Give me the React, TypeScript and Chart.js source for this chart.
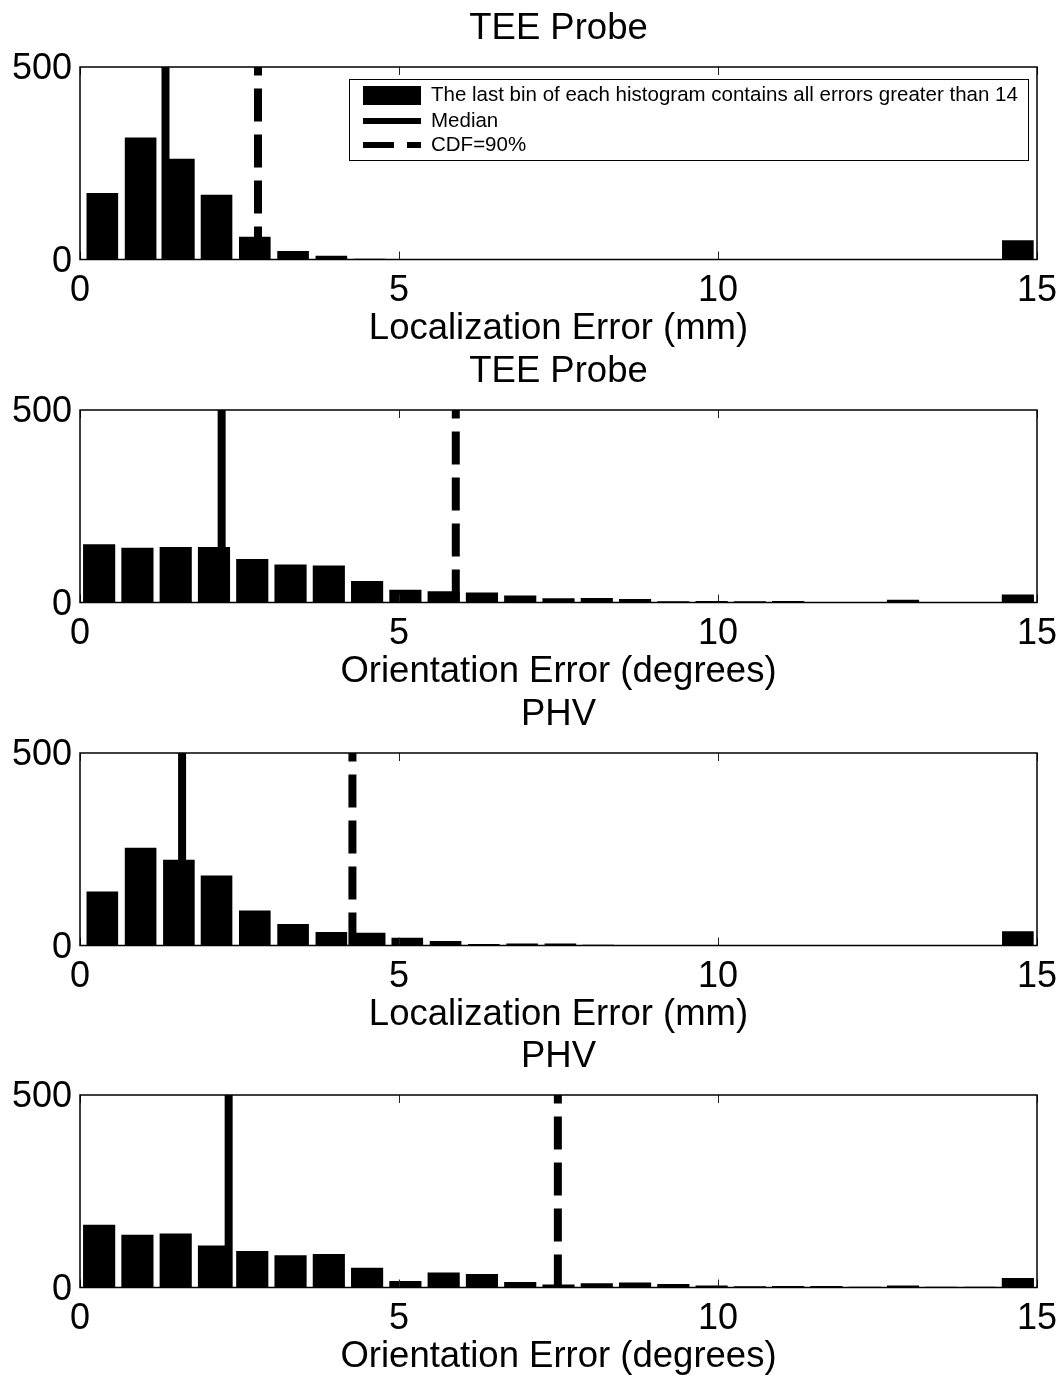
import React, { useEffect, useRef } from 'react';
import { Chart, registerables } from 'chart.js';

Chart.register(...registerables);

// ---------- data ----------
const panelTitles = ['TEE Probe', 'TEE Probe', 'PHV', 'PHV'];
const panelXLabels = [
  'Localization Error (mm)',
  'Orientation Error (degrees)',
  'Localization Error (mm)',
  'Orientation Error (degrees)',
];
const locBinCenters = [0.35, 0.95, 1.55, 2.14, 2.74, 3.34, 3.94, 4.54, 5.13, 5.73, 6.33, 6.93, 7.53, 8.12, 8.72, 9.32, 9.92, 10.52, 11.11, 11.71, 12.31, 12.91, 13.51, 14.1, 14.7];
const oriBinCenters = [0.3, 0.9, 1.5, 2.1, 2.7, 3.3, 3.9, 4.5, 5.1, 5.7, 6.3, 6.9, 7.5, 8.1, 8.7, 9.3, 9.9, 10.5, 11.1, 11.7, 12.3, 12.9, 13.5, 14.1, 14.7];
const teeLocCounts = [173, 317, 262, 168, 59, 22, 10, 2, 1, 0, 0, 0, 0, 0, 0, 0, 0, 0, 0, 0, 0, 0, 0, 0, 50];
const teeOriCounts = [151, 142, 144, 144, 113, 99, 96, 56, 33, 29, 26, 18, 11, 12, 9, 3, 4, 3, 4, 1, 1, 7, 1, 0, 21];
const phvLocCounts = [140, 254, 223, 182, 91, 56, 35, 33, 20, 12, 4, 5, 5, 2, 0, 0, 0, 0, 0, 0, 0, 0, 0, 0, 37];
const phvOriCounts = [163, 137, 140, 109, 95, 84, 87, 51, 17, 39, 35, 14, 8, 11, 13, 9, 5, 3, 4, 4, 2, 5, 2, 2, 25];
const medianValues = [1.34, 2.22, 1.6, 2.33];
const cdf90Values = [2.79, 5.89, 4.27, 7.49];
const xTickValues = [0, 5, 10, 15];
const yTickValues = [0, 500];
const legendLabels = [
  'The last bin of each histogram contains all errors greater than 14',
  'Median',
  'CDF=90%',
];

const panelCenters = [locBinCenters, oriBinCenters, locBinCenters, oriBinCenters];
const panelCounts = [teeLocCounts, teeOriCounts, phvLocCounts, phvOriCounts];

// ---------- layout ----------
const FONT = '"Liberation Sans", Arial, Helvetica, sans-serif';
const W = 1063;
const X_AXIS_H = 92.5;
const CANVAS_H = 352;
const panelTops = [0, 343, 686, 1028];
const DASH = [33, 13];

const framePlugin = {
  id: 'matlabFrame',
  afterDraw(chart: any) {
    const { ctx, chartArea: a, scales } = chart;
    ctx.save();
    ctx.strokeStyle = '#222';
    ctx.lineWidth = 1;
    for (const v of xTickValues) {
      const px = Math.round(scales.x.getPixelForValue(v)) + 0.5;
      ctx.beginPath();
      ctx.moveTo(px, a.bottom);
      ctx.lineTo(px, a.bottom - 8);
      ctx.moveTo(px, a.top);
      ctx.lineTo(px, a.top + 8);
      ctx.stroke();
    }
    ctx.strokeStyle = '#000';
    ctx.lineWidth = 1.5;
    ctx.strokeRect(a.left, a.top, a.right - a.left, a.bottom - a.top);
    ctx.restore();
  },
};

const legendPlugin = {
  id: 'matlabLegend',
  afterDraw(chart: any, _args: any, opts: any) {
    if (!opts || !opts.show) return;
    const { ctx, chartArea: a } = chart;
    const right = a.right - 9;
    const left = right - 679;
    const top = a.top + 12;
    const h = 81;
    ctx.save();
    ctx.fillStyle = '#fff';
    ctx.fillRect(left, top, right - left, h);
    ctx.strokeStyle = '#000';
    ctx.lineWidth = 1;
    ctx.strokeRect(left + 0.5, top + 0.5, right - left, h);
    const symL = left + 14;
    const symR = left + 72;
    const rows = [top + 16, top + 42, top + 66];
    // bar symbol
    ctx.fillStyle = '#000';
    ctx.fillRect(symL, rows[0] - 9, symR - symL, 19);
    // median symbol
    ctx.strokeStyle = '#000';
    ctx.lineWidth = 6;
    ctx.beginPath();
    ctx.moveTo(symL, rows[1]);
    ctx.lineTo(symR, rows[1]);
    ctx.stroke();
    // cdf symbol
    ctx.setLineDash([31, 13]);
    ctx.beginPath();
    ctx.moveTo(symL, rows[2]);
    ctx.lineTo(symR, rows[2]);
    ctx.stroke();
    ctx.setLineDash([]);
    ctx.font = `20.5px ${FONT}`;
    ctx.fillStyle = '#000';
    ctx.textAlign = 'left';
    ctx.textBaseline = 'middle';
    legendLabels.forEach((t, i) => ctx.fillText(t, symR + 10, rows[i]));
    ctx.restore();
  },
};

function Panel({ index }: { index: number }) {
  const ref = useRef<HTMLCanvasElement | null>(null);
  useEffect(() => {
    if (!ref.current) return;
    const centers = panelCenters[index];
    const counts = panelCounts[index];
    const m = medianValues[index];
    const c = cdf90Values[index];
    const tickFont = { family: FONT, size: 36, weight: 'normal' as const, lineHeight: 1.2 };
    const labelFont = { family: FONT, size: 36.5, weight: 'normal' as const, lineHeight: 1.2 };
    const chart = new Chart(ref.current, {
      type: 'bar',
      data: {
        datasets: [
          {
            type: 'bar',
            label: legendLabels[0],
            data: centers.map((x, i) => ({ x, y: counts[i] })),
            backgroundColor: '#000',
            borderWidth: 0,
            barPercentage: 0.84,
            categoryPercentage: 1,
            order: 2,
          } as any,
          {
            type: 'line',
            label: legendLabels[1],
            data: [{ x: m, y: 0 }, { x: m, y: 500 }],
            borderColor: '#000',
            borderWidth: 8,
            pointRadius: 0,
            borderCapStyle: 'butt',
            order: 1,
          } as any,
          {
            type: 'line',
            label: legendLabels[2],
            data: [{ x: c, y: 0 }, { x: c, y: 500 }],
            borderColor: '#000',
            borderWidth: 8,
            borderDash: DASH,
            pointRadius: 0,
            borderCapStyle: 'butt',
            order: 0,
          } as any,
        ],
      },
      options: {
        responsive: false,
        animation: false,
        events: [],
        layout: { padding: { left: 0, right: 26, top: 0, bottom: 0 } },
        plugins: {
          legend: { display: false },
          tooltip: { enabled: false },
          title: {
            display: true,
            fullSize: false,
            text: panelTitles[index],
            color: '#000',
            font: labelFont,
            padding: { top: 7.1, bottom: 16.1 },
          },
          matlabLegend: { show: index === 0 },
        } as any,
        scales: {
          x: {
            type: 'linear',
            min: 0,
            max: 15,
            offset: false,
            grid: { display: false, drawTicks: false },
            border: { display: false },
            ticks: { color: '#000', font: tickFont, padding: 10, maxRotation: 0, autoSkip: false },
            afterBuildTicks: (s: any) => {
              s.ticks = xTickValues.map((v) => ({ value: v }));
            },
            title: {
              display: true,
              text: panelXLabels[index],
              color: '#000',
              font: labelFont,
              padding: { top: 0, bottom: 1.1 },
            },
            afterFit: (s: any) => {
              s.height = X_AXIS_H;
              s.paddingLeft = 0;
              s.paddingRight = 0;
            },
          },
          y: {
            type: 'linear',
            min: 0,
            max: 500,
            grid: { display: false, drawTicks: false },
            border: { display: false },
            ticks: { color: '#000', font: tickFont, padding: 8, labelOffset: 2.5 },
            afterBuildTicks: (s: any) => {
              s.ticks = yTickValues.map((v) => ({ value: v }));
            },
            afterFit: (s: any) => {
              s.width = 80;
              s.paddingTop = 0;
              s.paddingBottom = 0;
            },
          },
        } as any,
      },
      plugins: [framePlugin, legendPlugin],
    });
    return () => chart.destroy();
  }, [index]);
  return (
    <div style={{ position: 'absolute', left: 0, top: panelTops[index], width: W, height: CANVAS_H }}>
      <canvas ref={ref} width={W} height={CANVAS_H} style={{ width: W, height: CANVAS_H, display: 'block' }} />
    </div>
  );
}

export default function App() {
  return (
    <div
      style={{
        position: 'absolute',
        left: 0,
        top: 0,
        width: W,
        height: 1376,
        overflow: 'hidden',
        background: '#fff',
      }}
    >
      {[0, 1, 2, 3].map((i) => (
        <Panel key={i} index={i} />
      ))}
    </div>
  );
}
